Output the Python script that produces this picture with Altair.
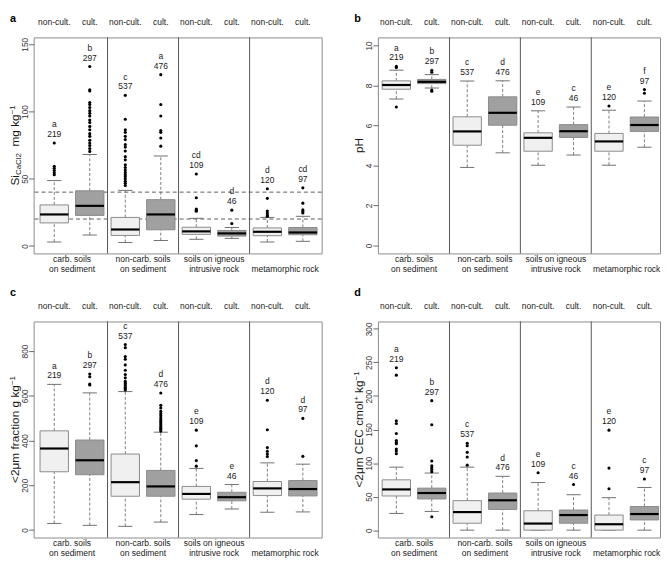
import altair as alt
import pandas as pd

FONT = "Liberation Sans"
TXT = "#1a1a1a"
LIGHT = "#f0f0f0"
DARK = "#a0a0a0"
BOXSTROKE = "#8a8a8a"
WHISK = "#707070"
SEPC = "#555555"
FRAME = "#8a8a8a"

# ---- shared categories ----
pos = [1, 2, 3, 4, 5, 6, 7, 8]
trt = ["non-cult.", "cult."] * 4
n_obs = [219, 297, 537, 476, 109, 46, 120, 97]
grp_pos = [1.5, 3.5, 5.5, 7.5]
grp_line1 = ["carb. soils", "non-carb. soils", "soils on igneous", ""]
grp_line2 = ["on sediment", "on sediment", "intrusive rock", "metamorphic rock"]
seps = [2.5, 4.5, 6.5]

# ---- panel a: Si CaCl2 ----
lo_a = [2.9, 8.1, 2.5, 4.0, 4.9, 5.6, 2.9, 3.4]
q1_a = [17.1, 22.7, 7.8, 12.0, 8.6, 7.3, 7.6, 8.3]
med_a = [23.4, 29.8, 12.2, 23.4, 10.8, 9.3, 10.5, 10.0]
q3_a = [30.5, 41.0, 21.2, 34.4, 13.9, 11.5, 13.4, 13.7]
hi_a = [48.6, 68.0, 41.3, 66.9, 20.5, 13.7, 21.2, 22.0]
out_a = [
    [53.0, 54.4, 56.1, 57.8, 59.3, 76.6],
    [70.3, 72.5, 74.7, 76.6, 78.6, 81.5, 83.5, 86.4, 88.9, 91.8, 93.7, 96.6,
     98.6, 100.6, 103.0, 105.2, 106.7, 115.2, 116.2, 133.5],
    [44.9, 46.6, 48.1, 49.8, 51.5, 53.0, 54.7, 56.4, 58.3, 60.3, 64.0, 66.4,
     70.6, 73.5, 75.4, 79.1, 81.5, 84.5, 86.4, 94.2, 112.0],
    [74.2, 80.3, 84.5, 85.9, 96.6, 105.2, 127.4],
    [25.8, 26.5, 27.5, 35.8, 53.5],
    [16.6, 26.6],
    [22.0, 23.0, 24.5, 26.0, 35.4, 42.5],
    [24.5, 25.5, 26.8, 31.8, 43.2],
]
let_a = ["a", "b", "c", "a", "cd", "d", "d", "cd"]
hlines_a = [20, 40]

# ---- panel b: pH ----
lo_b = [7.32, 7.87, 3.90, 4.63, 4.01, 4.52, 4.01, 4.91]
q1_b = [7.81, 8.09, 5.01, 6.01, 4.71, 5.40, 4.71, 5.70]
med_b = [8.02, 8.18, 5.70, 6.63, 5.38, 5.71, 5.20, 6.02]
q3_b = [8.23, 8.30, 6.43, 7.43, 5.63, 6.04, 5.60, 6.42]
hi_b = [8.76, 8.54, 8.22, 8.23, 6.73, 6.92, 6.76, 7.22]
out_b = [[6.92, 8.89, 8.95], [7.71, 7.77, 8.66, 8.76], [], [], [], [], [6.97], [7.61, 7.79]]
let_b = ["a", "b", "c", "d", "e", "c", "e", "f"]

# ---- panel c: <2um fraction ----
lo_c = [29, 20.5, 16, 35, 68.7, 93.6, 79, 80.4]
q1_c = [260, 247, 150.6, 150.6, 137.5, 130.2, 153.6, 152]
med_c = [364, 311.5, 213.5, 194.5, 160.9, 146.3, 185.7, 182.8]
q3_c = [443, 402, 339.3, 266, 194.5, 168.2, 216.5, 220.8]
hi_c = [650.8, 612.8, 618.6, 437, 275, 203.3, 299.8, 294]
out_c = [
    [],
    [648, 652, 685, 697],
    [626, 632, 638, 645, 652, 658, 665, 680, 695, 714, 738, 763, 775, 815, 829],
    [442, 448, 455, 462, 470, 478, 485, 492, 500, 510, 520, 530, 545, 557, 612],
    [285, 310, 376, 446],
    [],
    [328, 340, 352, 368, 448, 580],
    [329, 498.7],
]
let_c = ["a", "b", "c", "d", "e", "e", "d", "d"]

# ---- panel d: <2um CEC ----
lo_d = [24.9, 27.9, 0, 0, 0, 0, 0, 0]
q1_d = [50.9, 46.5, 10.3, 30.8, 0, 10.3, 0, 15.2]
med_d = [60.7, 55.3, 26.9, 44.5, 9.8, 22.5, 8.8, 24.0]
q3_d = [75.0, 62.6, 44.0, 55.3, 28.9, 30.0, 22.5, 35.2]
hi_d = [93.9, 85.1, 93.9, 80.2, 70.9, 52.8, 48.4, 63.6]
out_d = [
    [114, 118, 121, 128.7, 131, 133.5, 144, 159, 163, 231, 242],
    [20, 87, 90, 93, 96, 103, 157, 193],
    [96.9, 109, 116, 125.7, 129.6],
    [],
    [85.6],
    [68],
    [61.6, 92.5, 149],
    [76.3],
]
let_d = ["a", "b", "c", "d", "e", "c", "e", "c"]

# Arial / Liberation Sans advance widths (per 1000 em)
W = {' ': 278, '<': 584, '2': 556, 'μ': 576, 'm': 833, 'f': 278, 'r': 333, 'a': 556,
     'c': 500, 't': 278, 'i': 222, 'o': 556, 'n': 556, 'g': 556, 'k': 500, 'C': 722,
     'E': 667, 'l': 222, 'S': 667, 'p': 556, 'H': 722, '+': 584, '−': 584, '1': 556}


def twidth(s, fs):
    return sum(W.get(ch, 556) for ch in s) * fs / 1000.0


def one():
    return alt.Chart(alt.Data(values=[{}]))


def ytitle(pieces, h, base_x):
    total = sum(twidth(t, fs) for t, fs, sh in pieces)
    y = h / 2 + total / 2
    out = []
    for t, fs, sh in pieces:
        s = t.lstrip(" ")
        y -= twidth(t[: len(t) - len(s)], fs)
        out.append(one().mark_text(text=s, font=FONT, fontSize=fs, angle=270, align="left",
                                   baseline="alphabetic", color=TXT)
                   .encode(x=alt.value(base_x + sh), y=alt.value(y)))
        y -= twidth(s, fs)
    return out


def panel(lo, q1, med, q3, hi, outs, letters, ydom, yticks, xdom, w, h, tpieces, tag,
          tag_y, hlines=None):
    df = pd.DataFrame(dict(pos=pos, trt=trt, lo=lo, q1=q1, med=med, q3=q3, hi=hi,
                           n=[str(v) for v in n_obs], letter=letters))
    df["xl"] = df["pos"] - 0.4
    df["xr"] = df["pos"] + 0.4
    df["cl"] = df["pos"] - 0.2
    df["cr"] = df["pos"] + 0.2
    df["top"] = [max([hi[i]] + list(outs[i])) for i in range(8)]
    odf = pd.DataFrame([(pos[i], v) for i in range(8) for v in outs[i]], columns=["pos", "val"])

    xs = alt.Scale(domain=xdom, nice=False, zero=False)
    ys = alt.Scale(domain=ydom, nice=False, zero=False)
    yaxis = alt.Axis(values=yticks, labelAngle=270, labelAlign="center", labelBaseline="alphabetic",
                     tickSize=5, labelPadding=1, domain=False, grid=False, labelFontSize=8.5,
                     labelFont=FONT, labelColor="#333333", tickColor="#444444", tickWidth=0.8,
                     title=None, labelFlush=False, labelOverlap=False)

    def X(f):
        return alt.X(f, type="quantitative", scale=xs, axis=None)

    def Y(f):
        return alt.Y(f, type="quantitative", scale=ys, axis=yaxis, title=None)

    base = alt.Chart(df)
    layers = []
    if hlines:
        layers.append(alt.Chart(pd.DataFrame({"hl": hlines})).mark_rule(
            color="#333333", strokeDash=[4, 3], strokeWidth=0.8).encode(y=Y("hl")))
    layers.append(alt.Chart(pd.DataFrame({"s": seps})).mark_rule(color=SEPC, strokeWidth=1)
                  .encode(x=X("s")))
    layers.append(base.mark_rule(color=WHISK, strokeDash=[3, 2], strokeWidth=0.9)
                  .encode(x=X("pos"), y=Y("lo"), y2="q1"))
    layers.append(base.mark_rule(color=WHISK, strokeDash=[3, 2], strokeWidth=0.9)
                  .encode(x=X("pos"), y=Y("q3"), y2="hi"))
    layers.append(base.mark_rule(color=WHISK, strokeWidth=1)
                  .encode(x=X("cl"), x2="cr", y=Y("lo")))
    layers.append(base.mark_rule(color=WHISK, strokeWidth=1)
                  .encode(x=X("cl"), x2="cr", y=Y("hi")))
    layers.append(base.mark_rect(stroke=BOXSTROKE, strokeWidth=1).encode(
        x=X("xl"), x2="xr", y=Y("q1"), y2="q3",
        fill=alt.Fill("trt:N", scale=alt.Scale(domain=["non-cult.", "cult."], range=[LIGHT, DARK]),
                      legend=None)))
    layers.append(base.mark_rule(color="black", strokeWidth=2.2)
                  .encode(x=X("xl"), x2="xr", y=Y("med")))
    if len(odf):
        layers.append(alt.Chart(odf).mark_circle(color="black", size=10, opacity=1)
                      .encode(x=X("pos"), y=Y("val")))
    layers.append(base.mark_text(font=FONT, fontSize=8.6, color=TXT, baseline="middle")
                  .encode(x=X("pos"), y=alt.value(-15.5), text="trt:N"))
    layers.append(base.mark_text(font=FONT, fontSize=8.6, color=TXT, baseline="middle", dy=-9)
                  .encode(x=X("pos"), y=Y("top"), text="n:N"))
    layers.append(base.mark_text(font=FONT, fontSize=8.6, color=TXT, baseline="middle", dy=-19)
                  .encode(x=X("pos"), y=Y("top"), text="letter:N"))
    gdf = pd.DataFrame(dict(g=grp_pos, l1=grp_line1, l2=grp_line2))
    layers.append(alt.Chart(gdf).mark_text(font=FONT, fontSize=8.6, color=TXT, baseline="middle")
                  .encode(x=X("g"), y=alt.value(h + 6), text="l1:N"))
    layers.append(alt.Chart(gdf).mark_text(font=FONT, fontSize=8.6, color=TXT, baseline="middle")
                  .encode(x=X("g"), y=alt.value(h + 15.5), text="l2:N"))
    layers += ytitle(tpieces, h, -15)
    layers.append(one().mark_text(text=tag, font=FONT, fontSize=11, fontWeight="bold", color="black",
                                  align="left", baseline="alphabetic")
                  .encode(x=alt.value(-24), y=alt.value(tag_y)))
    return alt.layer(*layers).properties(width=w, height=h)


H = 219
WL, WR = 292, 286
XL = [0.42, 8.53]
XR = [0.48, 8.44]

pa = panel(lo_a, q1_a, med_a, q3_a, hi_a, out_a, let_a, [-5.6, 155.1], [0, 50, 100, 150], XL, WL, H,
           [("Si", 12, 0), ("CaCl2", 8, 2.5), ("  mg kg", 12, 0), ("−1", 8, -4)], "a", -16,
           hlines=hlines_a)
pb = panel(lo_b, q1_b, med_b, q3_b, hi_b, out_b, let_b, [-0.4, 10.4], [0, 2, 4, 6, 8, 10], XR, WR, H,
           [("pH", 12, 0)], "b", -16)
pc = panel(lo_c, q1_c, med_c, q3_c, hi_c, out_c, let_c, [-34, 932], [0, 200, 400, 600, 800], XL, WL, H,
           [("<2μm fraction g kg", 12, 0), ("−1", 8, -4)], "c", -26)
pd_ = panel(lo_d, q1_d, med_d, q3_d, hi_d, out_d, let_d, [-11, 311], [0, 50, 100, 150, 200, 250, 300],
            XR, WR, H,
            [("<2μm CEC cmol", 12, 0), ("+", 8, -4), (" kg", 12, 0), ("−1", 8, -4)], "d", -26)

chart = alt.concat(pa, pb, pc, pd_, columns=2, spacing={"row": 69, "column": 57}, bounds="flush") \
    .properties(padding=0) \
    .configure_view(stroke=FRAME, strokeWidth=1)

chart.save("out.html", embed_options={"renderer": "svg", "actions": False})
